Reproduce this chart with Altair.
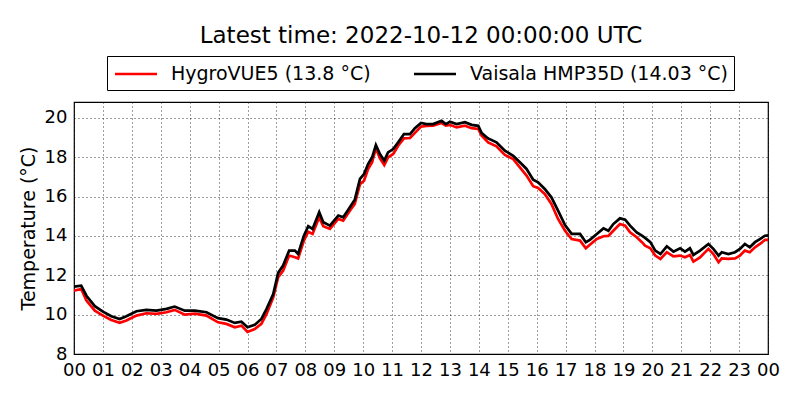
import altair as alt
import pandas as pd

hours = [0.0, 0.25, 0.43, 0.72, 1.0, 1.29, 1.58, 1.81, 2.16, 2.5, 2.85, 3.2, 3.48, 3.83,
         4.18, 4.58, 4.98, 5.27, 5.56, 5.79, 6.0, 6.25, 6.48, 6.66, 6.89, 7.06, 7.23, 7.44,
         7.64, 7.75, 7.95, 8.1, 8.25, 8.48, 8.62, 8.85, 9.14, 9.31, 9.54, 9.71, 9.89, 10.03,
         10.17, 10.31, 10.44, 10.58, 10.73, 10.86, 11.04, 11.21, 11.41, 11.62, 11.79, 12.0,
         12.19, 12.42, 12.71, 12.86, 13.0, 13.23, 13.52, 13.75, 13.98, 14.1, 14.32, 14.61,
         14.9, 15.19, 15.42, 15.65, 15.88, 16.05, 16.28, 16.51, 16.74, 16.98, 17.21, 17.5,
         17.7, 17.84, 18.08, 18.31, 18.48, 18.65, 18.88, 19.06, 19.23, 19.46, 19.64, 19.75,
         19.93, 20.1, 20.28, 20.5, 20.73, 20.96, 21.13, 21.3, 21.42, 21.65, 21.94, 22.11,
         22.29, 22.4, 22.63, 22.86, 23.03, 23.2, 23.37, 23.55, 23.72, 23.9, 24.0]

vaisala = [11.42, 11.47, 10.96, 10.43, 10.15, 9.92, 9.78, 9.92, 10.17, 10.24, 10.20, 10.29,
           10.41, 10.20, 10.20, 10.12, 9.82, 9.75, 9.58, 9.64, 9.36, 9.48, 9.78, 10.29, 11.05,
           12.12, 12.49, 13.25, 13.25, 13.08, 14.01, 14.49, 14.35, 15.20, 14.69, 14.52, 15.03,
           14.94, 15.45, 15.84, 16.89, 17.14, 17.65, 17.99, 18.61, 18.16, 17.82, 18.24, 18.41,
           18.75, 19.17, 19.17, 19.47, 19.74, 19.68, 19.68, 19.85, 19.68, 19.80, 19.68, 19.77,
           19.64, 19.59, 19.22, 18.95, 18.75, 18.33, 18.07, 17.74, 17.40, 16.85, 16.72, 16.38,
           15.96, 15.28, 14.55, 14.10, 14.10, 13.68, 13.80, 14.10, 14.38, 14.26, 14.60, 14.89,
           14.82, 14.52, 14.18, 14.01, 13.90, 13.68, 13.25, 13.08, 13.47, 13.20, 13.37, 13.20,
           13.37, 13.03, 13.25, 13.59, 13.34, 13.00, 13.17, 13.08, 13.17, 13.34, 13.59, 13.42,
           13.68, 13.84, 14.01, 14.03]

hygrovue = [11.22, 11.30, 10.71, 10.20, 9.95, 9.73, 9.58, 9.70, 9.95, 10.07, 10.04, 10.12,
            10.24, 10.00, 10.05, 9.95, 9.61, 9.53, 9.36, 9.44, 9.12, 9.27, 9.53, 10.04, 10.88,
            11.90, 12.23, 13.00, 12.91, 12.85, 13.76, 14.21, 14.10, 14.94, 14.49, 14.35, 14.86,
            14.77, 15.28, 15.62, 16.63, 16.80, 17.40, 17.74, 18.45, 17.94, 17.60, 17.99, 18.16,
            18.58, 18.95, 18.97, 19.23, 19.55, 19.58, 19.60, 19.73, 19.60, 19.64, 19.51, 19.60,
            19.47, 19.43, 19.09, 18.75, 18.55, 18.11, 17.90, 17.48, 17.06, 16.52, 16.43, 16.13,
            15.62, 14.86, 14.26, 13.84, 13.76, 13.37, 13.55, 13.84, 13.98, 14.00, 14.26, 14.60,
            14.52, 14.18, 13.93, 13.68, 13.50, 13.37, 13.00, 12.83, 13.17, 12.96, 13.00, 12.91,
            13.03, 12.69, 12.91, 13.34, 13.08, 12.66, 12.86, 12.83, 12.86, 13.00, 13.25, 13.17,
            13.42, 13.59, 13.80, 13.80]

series_names = ["HygroVUE5 (13.8 °C)", "Vaisala HMP35D (14.03 °C)"]
series_colors = ["#ff0000", "#000000"]
x_ticks = list(range(0, 25))
y_ticks = [8, 10, 12, 14, 16, 18, 20]

df = pd.concat([
    pd.DataFrame({"hour": hours, "temp": hygrovue, "sensor": series_names[0], "order": 0}),
    pd.DataFrame({"hour": hours, "temp": vaisala, "sensor": series_names[1], "order": 1}),
])

FONT = "DejaVu Sans"

chart = alt.Chart(df).mark_line(strokeWidth=2.7, clip=True).encode(
    x=alt.X("hour:Q",
            scale=alt.Scale(domain=[0, 24], nice=False, zero=False),
            axis=alt.Axis(values=x_ticks, title=None,
                          labelExpr="(datum.value % 24 < 10 ? '0' : '') + (datum.value % 24)",
                          labelFontSize=18, labelFont=FONT, labelColor="black",
                          labelPadding=7, tickSize=0, domain=False,
                          grid=True, gridColor="#000000", gridOpacity=0.85,
                          gridDash=[1, 3], gridWidth=0.9, labelFlush=False)),
    y=alt.Y("temp:Q",
            scale=alt.Scale(domain=[8, 20.8], nice=False, zero=False),
            axis=alt.Axis(values=y_ticks, title="Temperature (°C)",
                          labelFontSize=18, labelFont=FONT, labelColor="black",
                          labelPadding=7, tickSize=0, domain=False,
                          titleFontSize=19, titleFont=FONT, titleFontWeight="normal",
                          titleColor="black", titleX=-46, titleY=126,
                          titleBaseline="middle", titleAlign="center", titleAngle=270,
                          grid=True, gridColor="#000000", gridOpacity=0.85,
                          gridDash=[1, 3], gridWidth=0.9, labelFlush=False)),
    color=alt.Color("sensor:N",
                    scale=alt.Scale(domain=series_names, range=series_colors),
                    legend=alt.Legend(title=None, orient="none", legendX=33, legendY=-46,
                                      direction="horizontal", columns=2,
                                      strokeColor="black", fillColor="white", padding=6,
                                      symbolType="M-2,0H2", symbolSize=441,
                                      symbolOffset=11,
                                      symbolStrokeWidth=2.7, labelFontSize=19,
                                      labelFont=FONT, labelColor="black", labelOffset=23,
                                      columnPadding=37, labelLimit=400, cornerRadius=0)),
    order=alt.Order("order:Q"),
).properties(
    width=694,
    height=252,
    title=alt.TitleParams("Latest time: 2022-10-12 00:00:00 UTC", fontSize=23, font=FONT,
                          fontWeight="normal", color="black", anchor="middle", offset=8),
    autosize=alt.AutoSizeParams(type="none"),
    padding={"left": 66, "top": 94, "right": 24, "bottom": 40},
).configure_view(stroke="black", strokeWidth=1.2)

chart.save("out.html", embed_options={"renderer": "svg", "actions": False})
